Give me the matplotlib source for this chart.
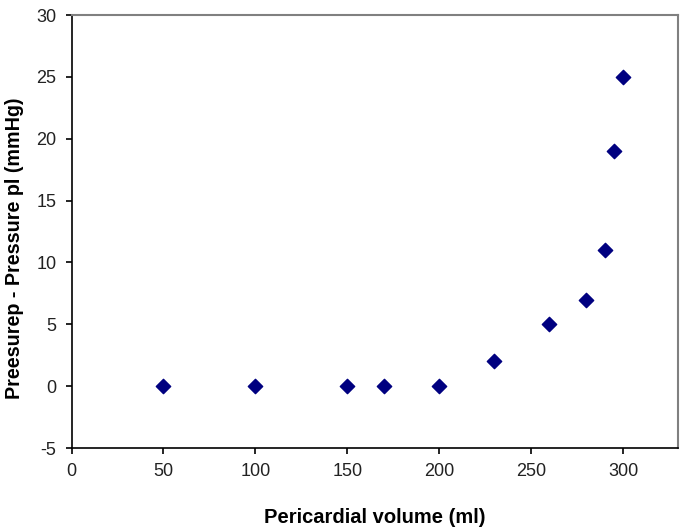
import matplotlib.pyplot as plt

# Pericardial volume vs pressure difference
volume = [50, 100, 150, 170, 200, 230, 260, 280, 290, 295, 300]
pressure = [0, 0, 0, 0, 0, 2, 5, 7, 11, 19, 25]

xticks = [0, 50, 100, 150, 200, 250, 300]
yticks = [-5, 0, 5, 10, 15, 20, 25, 30]

plt.rcParams['font.family'] = ['Liberation Sans', 'DejaVu Sans']
plt.rcParams['axes.unicode_minus'] = False

fig = plt.figure(figsize=(6.85, 5.29), dpi=100)
ax = fig.add_axes([0.1045, 0.153, 0.8855, 0.8186])

ax.scatter(volume, pressure, marker='D', s=7.3**2, color='#000080', zorder=3)

ax.set_xlim(0, 330)
ax.set_ylim(-5, 30)
ax.set_xticks(xticks)
ax.set_yticks(yticks)
ax.tick_params(direction='out', length=4, width=1.2, labelsize=13, pad=7,
               labelcolor='#222222')

ax.spines['left'].set_color('black')
ax.spines['bottom'].set_color('black')
ax.spines['left'].set_linewidth(1.2)
ax.spines['bottom'].set_linewidth(1.2)
ax.spines['top'].set_color('#808080')
ax.spines['right'].set_color('#808080')
ax.spines['top'].set_linewidth(1.5)
ax.spines['right'].set_linewidth(1.5)

ax.set_xlabel('Pericardial volume (ml)', fontsize=14.5, fontweight='bold', labelpad=20)
ax.set_ylabel('Preesurep - Pressure pl (mmHg)', fontsize=14.2, fontweight='bold')
ax.yaxis.set_label_coords(-0.078, 0.462)

fig.savefig('out.png', dpi=100)
